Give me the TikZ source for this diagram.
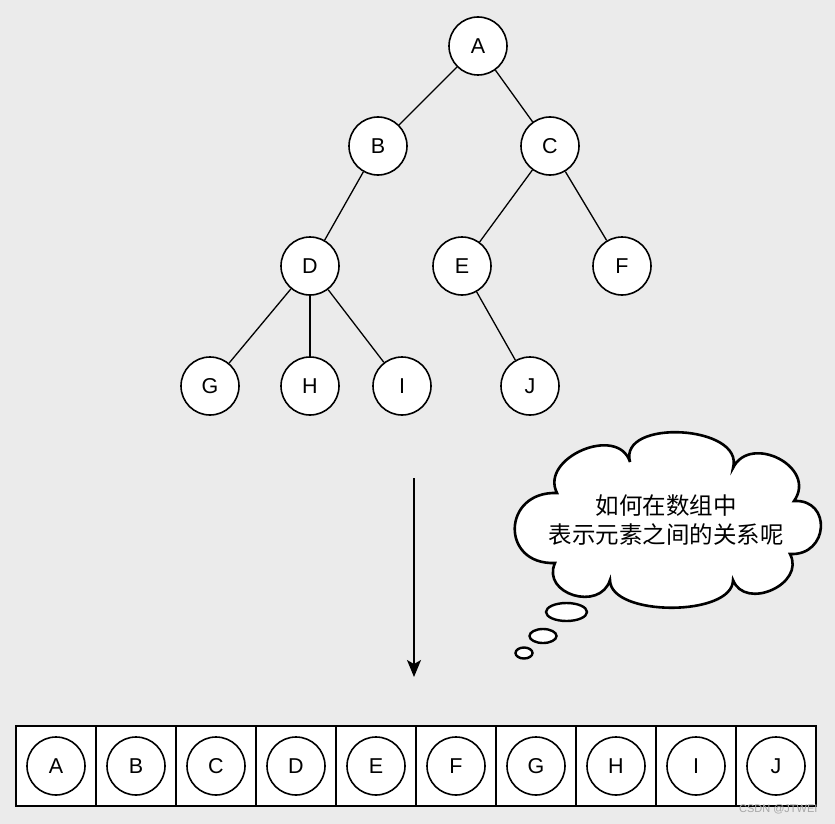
\documentclass[tikz,border=0pt]{standalone}
\usepackage{fontspec}
\setmainfont{Liberation Sans}
\newfontfamily\cjk{Noto Sans CJK SC}
\usetikzlibrary{arrows.meta,shapes.geometric}
\definecolor{bgc}{RGB}{235,235,235}
\tikzset{
  treenode/.style={circle, draw=black, line width=1.6pt, fill=white, minimum size=58pt, inner sep=0pt, font=\fontsize{21.5}{24}\selectfont},
  edge/.style={line width=1.3pt},
  cell/.style={rectangle, draw=black, line width=1.5pt, fill=white, minimum width=80pt, minimum height=80pt, inner sep=0pt},
  cloudline/.style={line width=2.6pt, draw=black, fill=white},
  bubble/.style={ellipse, draw=black, line width=2.4pt, fill=white, inner sep=0pt},
  arr/.style={line width=1.4pt, -{Stealth[width=14pt,length=17pt,inset=4pt]}}
}
\begin{document}
\begin{tikzpicture}[x=1pt,y=-1pt]
\fill[bgc] (0,0) rectangle (835,824);
\useasboundingbox (0,0) rectangle (835,824);
% tree
\node[treenode] (A) at (478,46) {A};
\node[treenode] (B) at (378,146) {B};
\node[treenode] (C) at (550,146) {C};
\node[treenode] (D) at (310,266) {D};
\node[treenode] (E) at (462,266) {E};
\node[treenode] (F) at (622,266) {F};
\node[treenode] (G) at (210,386) {G};
\node[treenode] (H) at (310,386) {H};
\node[treenode] (I) at (402,386) {I};
\node[treenode] (J) at (530,386) {J};
\draw[edge] (A) -- (B);
\draw[edge] (A) -- (C);
\draw[edge] (B) -- (D);
\draw[edge] (C) -- (E);
\draw[edge] (C) -- (F);
\draw[edge] (D) -- (G);
\draw[edge] (D) -- (H);
\draw[edge] (D) -- (I);
\draw[edge] (E) -- (J);
% arrow
\coordinate (arrS) at (414,478);
\coordinate (arrE) at (414,677);
\draw[arr] (arrS) -- (arrE);
% cloud
\draw[cloudline] (630,462)
  .. controls (618,418) and (745,425) .. (733,468)
  .. controls (750,433) and (818,467) .. (794,501)
  .. controls (832,499) and (829,556) .. (790,554)
  .. controls (806,584) and (745,611) .. (733,580)
  .. controls (733,617) and (610,617) .. (610,580)
  .. controls (600,612) and (541,594) .. (555,563)
  .. controls (500,565) and (502,491) .. (557,493)
  .. controls (539,458) and (618,424) .. (630,462) -- cycle;
\node[align=center, font=\cjk\fontsize{23.5}{28.5}\selectfont] (q) at (666,520) {如何在数组中\\表示元素之间的关系呢};
\node[bubble, minimum width=41pt, minimum height=18pt] (b1) at (566.5,612) {};
\node[bubble, minimum width=27pt, minimum height=14pt] (b2) at (543,636) {};
\node[bubble, minimum width=17pt, minimum height=11pt] (b3) at (524,653) {};
% array
\foreach \n [count=\i from 0] in {A,B,C,D,E,F,G,H,I,J} {
  \node[cell] (c\n) at ({56+80*\i},766) {};
  \node[treenode] (a\n) at ({56+80*\i},766) {\n};
}
\node[font=\fontsize{11}{13}\selectfont, anchor=east, text=gray!70] (wm) at (821,809) {CSDN @JTWEI};
\end{tikzpicture}
\end{document}
